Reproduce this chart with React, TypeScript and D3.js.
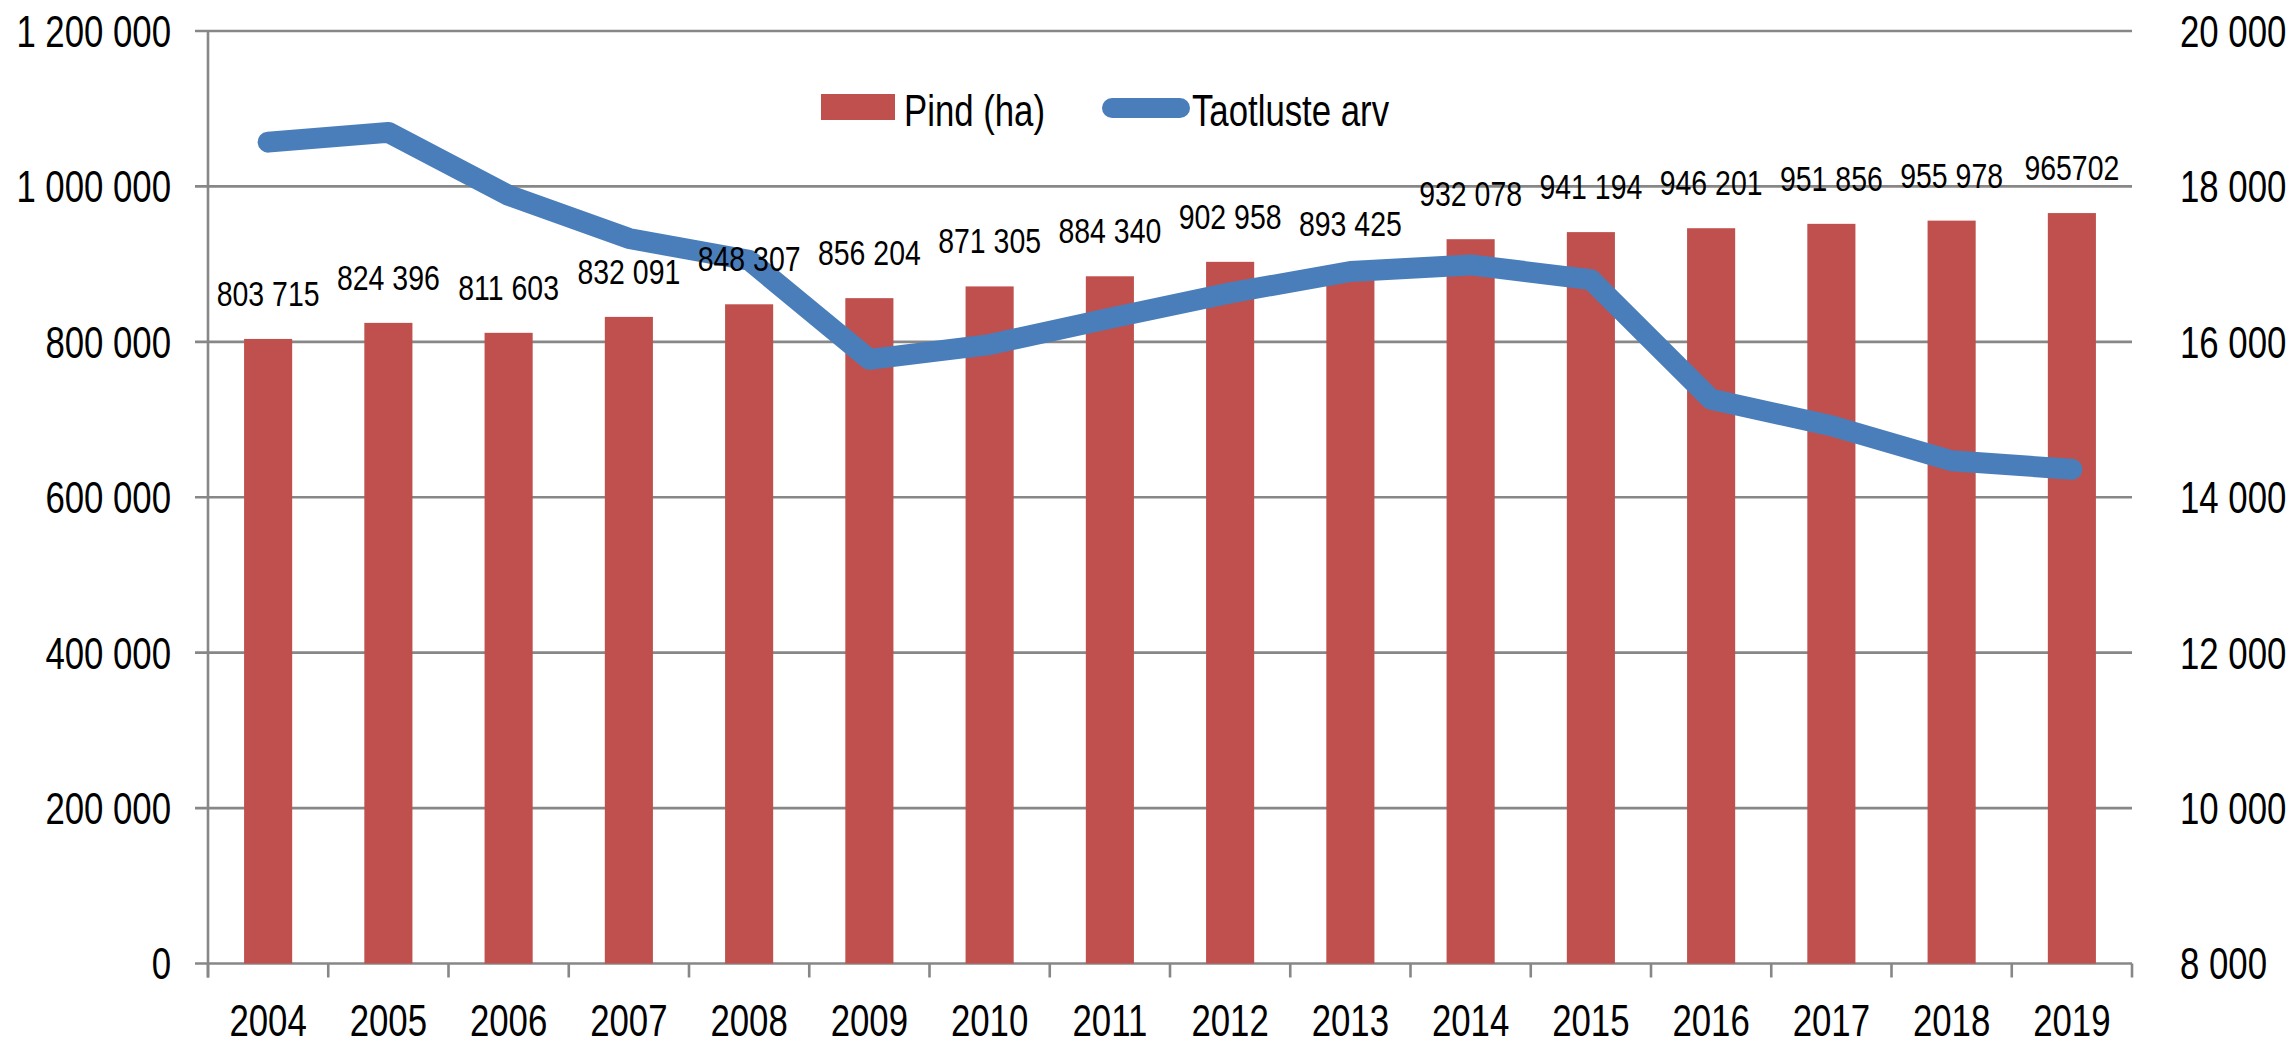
import React, { useEffect } from 'react';
import * as d3 from 'd3';

const years = ['2004', '2005', '2006', '2007', '2008', '2009', '2010', '2011', '2012', '2013', '2014', '2015', '2016', '2017', '2018', '2019'];
const area = [803715, 824396, 811603, 832091, 848307, 856204, 871305, 884340, 902958, 893425, 932078, 941194, 946201, 951856, 955978, 965702];
const areaLabels = ['803 715', '824 396', '811 603', '832 091', '848 307', '856 204', '871 305', '884 340', '902 958', '893 425', '932 078', '941 194', '946 201', '951 856', '955 978', '965702'];
const applications = [18570, 18695, 17885, 17330, 17050, 15775, 15965, 16305, 16630, 16905, 16990, 16800, 15260, 14920, 14470, 14360];
const leftTicks = [0, 200000, 400000, 600000, 800000, 1000000, 1200000];
const rightTicks = [8000, 10000, 12000, 14000, 16000, 18000, 20000];

const W = 2288;
const H = 1046;
const left = 208;
const right = 2132;
const top = 31;
const bottom = 963.5;
const FONT = '"Liberation Sans", Arial, sans-serif';
const SX = 0.79; // narrow look of the original font

const fmt = (v: number) => d3.format(',')(v).replace(/,/g, ' ');

// condensed text, anchored at (x, y) with y as vertical centre
const T: React.FC<{ x: number; y: number; size: number; anchor?: string; children: React.ReactNode }> = ({ x, y, size, anchor = 'start', children }) => (
  <text transform={`translate(${x},${y}) scale(${SX},1)`} dy="0.36em" textAnchor={anchor} fontSize={size} fill="#000">
    {children}
  </text>
);

const App: React.FC = () => {
  useEffect(() => {
    document.body.style.margin = '0';
  }, []);

  const x = d3.scaleBand<string>().domain(years).range([left, right]).paddingInner(0).paddingOuter(0);
  const yL = d3.scaleLinear().domain([0, 1200000]).range([bottom, top]);
  const yR = d3.scaleLinear().domain([8000, 20000]).range([bottom, top]);
  const bw = x.bandwidth() * 0.4;
  const cx = (y: string) => (x(y) as number) + x.bandwidth() / 2;

  const line = d3.line<number>()
    .x((_, i) => cx(years[i]))
    .y((d) => yR(d));

  const boundaries = years.map((y) => x(y) as number).concat([right]);

  return (
    <svg width={W} height={H} style={{ display: 'block', background: '#fff' }} fontFamily={FONT}>
      {/* gridlines */}
      {leftTicks.map((t) => (
        <line key={'g' + t} x1={left - 13} x2={right} y1={yL(t)} y2={yL(t)} stroke="#878787" strokeWidth={2.6} />
      ))}
      {/* left axis line */}
      <line x1={left} x2={left} y1={top} y2={bottom + 14} stroke="#878787" strokeWidth={2.6} />
      {/* category ticks */}
      {boundaries.map((b, i) => (
        <line key={'t' + i} x1={b} x2={b} y1={bottom} y2={bottom + 14} stroke="#878787" strokeWidth={2.6} />
      ))}

      {/* bars */}
      {area.map((v, i) => (
        <rect key={'b' + i} x={cx(years[i]) - bw / 2} y={yL(v)} width={bw} height={bottom - yL(v)} fill="#C0504D" />
      ))}

      {/* line */}
      <path d={line(applications) || ''} fill="none" stroke="#4A7EBB" strokeWidth={21} strokeLinecap="round" strokeLinejoin="round" />

      {/* bar labels, drawn over the line */}
      {area.map((v, i) => (
        <T key={'l' + i} x={cx(years[i])} y={yL(v) - 46} size={36} anchor="middle">
          {areaLabels[i]}
        </T>
      ))}

      {/* left axis labels */}
      {leftTicks.map((t) => (
        <T key={'yl' + t} x={171} y={yL(t)} size={44} anchor="end">
          {fmt(t)}
        </T>
      ))}
      {/* right axis labels */}
      {rightTicks.map((t) => (
        <T key={'yr' + t} x={2180} y={yR(t)} size={44}>
          {fmt(t)}
        </T>
      ))}
      {/* x labels */}
      {years.map((y) => (
        <T key={'x' + y} x={cx(y)} y={1020} size={44} anchor="middle">
          {y}
        </T>
      ))}

      {/* legend */}
      <rect x={821} y={94} width={74} height={26} fill="#C0504D" />
      <T x={904} y={110} size={44}>Pind (ha)</T>
      <line x1={1112} x2={1180} y1={108} y2={108} stroke="#4A7EBB" strokeWidth={20} strokeLinecap="round" />
      <T x={1192} y={110} size={44}>Taotluste arv</T>
    </svg>
  );
};

export default App;
